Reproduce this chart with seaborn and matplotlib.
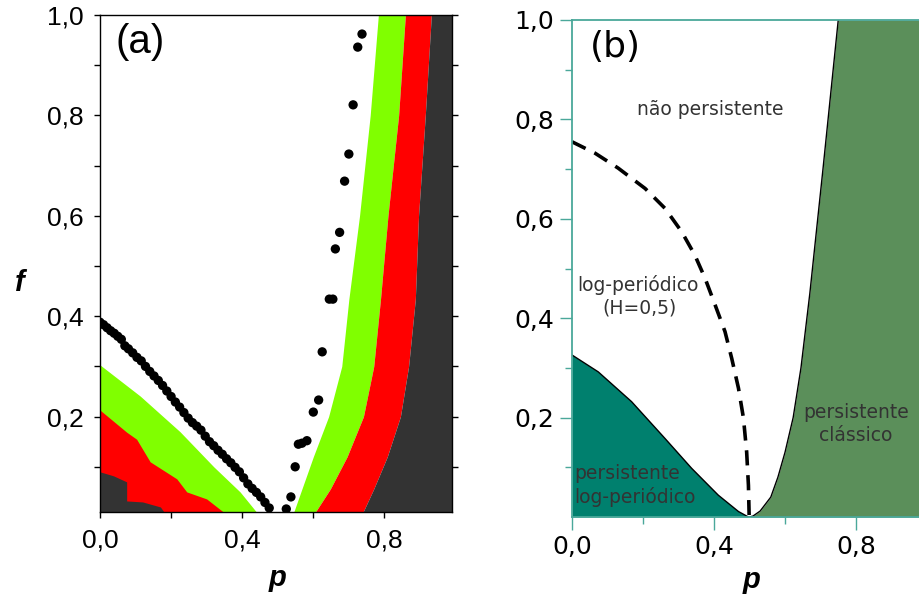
import matplotlib
matplotlib.use("Agg")
import matplotlib.pyplot as plt
import seaborn as sns
from matplotlib.ticker import FixedLocator, FixedFormatter

sns.set_style("white")

# panel (a): coloured bands on the right, f levels and p boundaries
f_band = [0.01, 0.056, 0.12, 0.2, 0.3, 0.434, 0.6, 0.8, 1.0]
p_white_green = [0.545, 0.568, 0.60, 0.643, 0.68, 0.70, 0.73, 0.76, 0.783]
p_green_red = [0.606, 0.648, 0.695, 0.741, 0.77, 0.789, 0.81, 0.84, 0.859]
p_red_dark = [0.74, 0.77, 0.808, 0.845, 0.868, 0.887, 0.896, 0.915, 0.932]

# panel (a): bands on the left
p_lg = [0, 0.113, 0.225, 0.32, 0.394, 0.44]
f_lg = [0.303, 0.241, 0.17, 0.10, 0.05, 0.01]
p_lr = [0, 0.075, 0.103, 0.141, 0.216, 0.244, 0.30, 0.347]
f_lr = [0.213, 0.169, 0.155, 0.11, 0.076, 0.05, 0.036, 0.01]
p_ld = [0, 0.038, 0.075, 0.075, 0.12, 0.17, 0.18]
f_ld = [0.09, 0.082, 0.07, 0.032, 0.03, 0.02, 0.01]

# panel (a): black dots
p_dots_l = [0.0, 0.01, 0.02, 0.03, 0.04, 0.05, 0.06, 0.07, 0.08, 0.092, 0.104, 0.116,
            0.128, 0.14, 0.152, 0.164, 0.176, 0.188, 0.2, 0.212, 0.224, 0.236, 0.248,
            0.26, 0.272, 0.284, 0.296, 0.308, 0.32, 0.332, 0.344, 0.356, 0.368, 0.38,
            0.392, 0.404, 0.416, 0.428, 0.44, 0.452, 0.464, 0.476]
f_dots_l = [0.388, 0.383, 0.377, 0.371, 0.366, 0.36, 0.354, 0.341, 0.335, 0.327, 0.318,
            0.311, 0.3, 0.29, 0.281, 0.272, 0.262, 0.251, 0.24, 0.229, 0.219, 0.208,
            0.197, 0.188, 0.181, 0.173, 0.161, 0.15, 0.142, 0.133, 0.125, 0.116, 0.108,
            0.099, 0.09, 0.078, 0.066, 0.057, 0.049, 0.04, 0.029, 0.018]
p_dots_r = [0.524, 0.537, 0.549, 0.558, 0.568, 0.582, 0.6, 0.615, 0.625, 0.645, 0.655,
            0.662, 0.674, 0.688, 0.7, 0.712, 0.725, 0.737]
f_dots_r = [0.016, 0.04, 0.1, 0.145, 0.147, 0.152, 0.209, 0.233, 0.329, 0.434, 0.434,
            0.534, 0.567, 0.669, 0.723, 0.821, 0.936, 0.962]

# panel (b): phase boundaries
p_lp = [0, 0.074, 0.168, 0.262, 0.337, 0.412, 0.469, 0.497]
f_lp = [0.326, 0.292, 0.232, 0.158, 0.098, 0.044, 0.011, 0]
p_cl = [0.5, 0.51, 0.53, 0.56, 0.58, 0.6, 0.623, 0.645, 0.67, 0.707, 0.75]
f_cl = [0, 0.002, 0.012, 0.04, 0.08, 0.13, 0.2, 0.3, 0.45, 0.7, 1.0]
p_dash = [0, 0.065, 0.13, 0.206, 0.262, 0.309, 0.346, 0.375, 0.403, 0.431, 0.45, 0.469,
          0.483, 0.492, 0.497, 0.499]
f_dash = [0.755, 0.732, 0.702, 0.661, 0.621, 0.574, 0.527, 0.48, 0.427, 0.373, 0.319,
          0.259, 0.199, 0.131, 0.064, 0.004]

x_ticks = [0.0, 0.4, 0.8]
x_labels = ["0,0", "0,4", "0,8"]
y_ticks = [0.2, 0.4, 0.6, 0.8, 1.0]
y_labels = ["0,2", "0,4", "0,6", "0,8", "1,0"]

GREEN, RED, DARK = "#80ff00", "#ff0000", "#333333"
TEAL, CLASS = "#00806e", "#5b8f5a"
SPINE_B = "#4aa89a"

fig = plt.figure(figsize=(9.19, 5.97), dpi=100)
ax1 = fig.add_axes([0.1088, 0.1424, 0.383, 0.8325])
ax2 = fig.add_axes([0.6224, 0.134, 0.3863, 0.8325])

# ---- panel (a)
ax1.fill_betweenx(f_band, p_white_green, p_green_red, color=GREEN, lw=0)
ax1.fill_betweenx(f_band, p_green_red, p_red_dark, color=RED, lw=0)
ax1.fill_betweenx(f_band, p_red_dark, 1.0, color=DARK, lw=0)
ax1.fill_between(p_lg, 0, f_lg, color=GREEN, lw=0)
ax1.fill_between(p_lr, 0, f_lr, color=RED, lw=0)
ax1.fill_between(p_ld, 0, f_ld, color=DARK, lw=0)
sns.scatterplot(x=p_dots_l, y=f_dots_l, ax=ax1, color="black", s=45, edgecolor="none", zorder=5)
sns.scatterplot(x=p_dots_r, y=f_dots_r, ax=ax1, color="black", s=45, edgecolor="none", zorder=5)
ax1.set_xlim(0, 0.99)
ax1.set_ylim(0.01, 1.0)
for s in ax1.spines.values():
    s.set_color("black")
    s.set_linewidth(1.0)
ax1.tick_params(axis="both", which="both", direction="out", length=4, width=1,
                color="black", left=True, bottom=True, labelsize=19, pad=8,
                labelcolor="black", labelfontfamily="Liberation Sans")
ax1.tick_params(axis="y", which="both", right=True)
ax1.xaxis.set_major_locator(FixedLocator(x_ticks))
ax1.xaxis.set_major_formatter(FixedFormatter(x_labels))
ax1.xaxis.set_minor_locator(FixedLocator([0.2, 0.6]))
ax1.yaxis.set_major_locator(FixedLocator(y_ticks))
ax1.yaxis.set_major_formatter(FixedFormatter(y_labels))
ax1.yaxis.set_minor_locator(FixedLocator([0.1, 0.3, 0.5, 0.7, 0.9]))
ax1.set_xlabel("p", fontsize=21, fontweight="bold", style="italic", family="Liberation Sans",
               va="center", color="black")
ax1.set_ylabel("f", fontsize=21, fontweight="bold", style="italic", family="Liberation Sans",
               rotation=0, va="center", ha="center", color="black")
ax1.xaxis.set_label_coords(0.503, -0.133)
ax1.yaxis.set_label_coords(-0.227, 0.46)
ax1.text(0.115, 0.945, "(a)", transform=ax1.transAxes, fontsize=29, family="Liberation Sans",
         ha="center", va="center", color="black")

# ---- panel (b)
ax2.fill_between(p_lp, 0, f_lp, color=TEAL, lw=0)
ax2.fill_betweenx(f_cl, p_cl, 1.0, color=CLASS, lw=0)
sns.lineplot(x=p_lp, y=f_lp, ax=ax2, color="black", lw=1, sort=False)
sns.lineplot(x=p_cl, y=f_cl, ax=ax2, color="black", lw=1, sort=False)
sns.lineplot(x=p_dash, y=f_dash, ax=ax2, color="black", lw=2.6, sort=False,
             linestyle=(0, (4.2, 2.7)))
ax2.set_xlim(0, 1.0)
ax2.set_ylim(0, 1.0)
ax2.spines["right"].set_visible(False)
for k in ["left", "top", "bottom"]:
    ax2.spines[k].set_color(SPINE_B)
    ax2.spines[k].set_linewidth(1.3)
ax2.tick_params(axis="both", which="major", direction="out", length=9, width=1,
                color=SPINE_B, left=True, bottom=True, labelsize=18, pad=4,
                labelcolor="black")
ax2.tick_params(axis="both", which="minor", direction="out", length=5, width=1,
                color=SPINE_B, left=True, bottom=True)
ax2.xaxis.set_major_locator(FixedLocator(x_ticks))
ax2.xaxis.set_major_formatter(FixedFormatter(x_labels))
ax2.xaxis.set_minor_locator(FixedLocator([0.2, 0.6]))
ax2.yaxis.set_major_locator(FixedLocator(y_ticks))
ax2.yaxis.set_major_formatter(FixedFormatter(y_labels))
ax2.yaxis.set_minor_locator(FixedLocator([0.1, 0.3, 0.5, 0.7, 0.9]))
ax2.set_xlabel("p", fontsize=21, fontweight="bold", style="italic", family="Liberation Sans",
               va="center", color="black")
ax2.xaxis.set_label_coords(0.507, -0.127)
ax2.set_ylabel("")
ax2.text(0.122, 0.945, "(b)", transform=ax2.transAxes, fontsize=26, ha="center", va="center",
         color="black")

txt = dict(color="#333333", fontsize=13.5)
ax2.text(0.39, 0.82, "não persistente", ha="center", va="center", **txt)
ax2.text(0.186, 0.467, "log-periódico", ha="center", va="center", **txt)
ax2.text(0.19, 0.42, "(H=0,5)", ha="center", va="center", **txt)
ax2.text(0.80, 0.21, "persistente", ha="center", va="center", **txt)
ax2.text(0.80, 0.163, "clássico", ha="center", va="center", **txt)
ax2.text(0.005, 0.088, "persistente", ha="left", va="center", **txt)
ax2.text(0.005, 0.04, "log-periódico", ha="left", va="center", **txt)

fig.savefig("out.png", dpi=100)
